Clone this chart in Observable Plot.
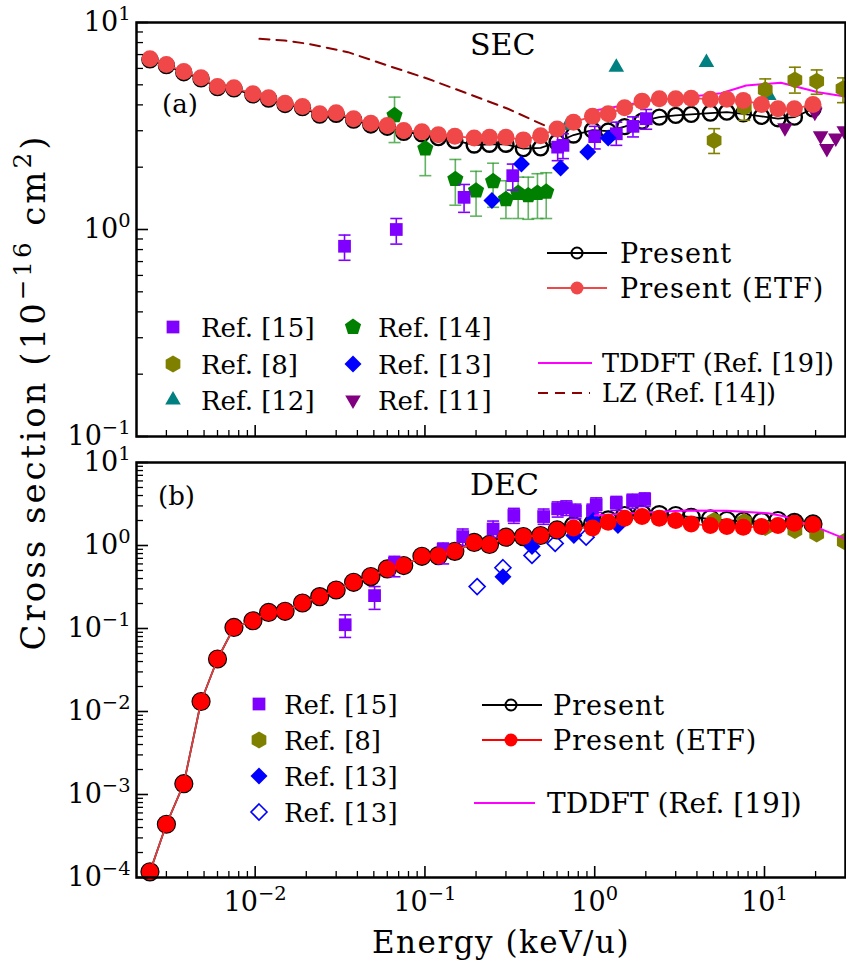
<!DOCTYPE html>
<html><head><meta charset="utf-8">
<script src="https://cdn.jsdelivr.net/npm/d3@7"></script>
<script src="https://cdn.jsdelivr.net/npm/@observablehq/plot@0.6"></script>
<style>
body{margin:0;background:#fff;}
#wrap{position:relative;width:846px;height:963px;font-family:"DejaVu Serif",serif;overflow:hidden;}
#wrap > svg{position:absolute;left:0;}
</style></head><body><div id="wrap"></div>
<script>
// ---------- data ----------
const energy = [0.0024,0.003,0.0038,0.0048,0.006,0.0075,0.0097,0.012,0.015,0.019,0.024,0.03,0.038,0.048,0.06,0.075,0.096,0.12,0.15,0.195,0.24,0.3,0.38,0.48,0.6,0.75,0.97,1.2,1.5,1.9,2.4,3.0,3.7,4.8,6.0,7.5,9.6,12,15,19.3];
const secETF = [6.68,6.27,5.80,5.41,4.91,4.84,4.53,4.33,4.07,3.93,3.62,3.66,3.43,3.26,3.18,3.01,2.97,2.87,2.82,2.77,2.79,2.79,2.71,2.84,3.06,3.30,3.52,3.62,3.87,4.17,4.28,4.28,4.31,4.26,4.26,4.20,4.02,3.83,3.83,4.02];
const secPresent = [6.60,6.20,5.72,5.35,4.85,4.78,4.47,4.27,4.02,3.88,3.57,3.60,3.38,3.20,3.12,2.95,2.90,2.78,2.69,2.56,2.58,2.58,2.46,2.48,2.64,2.86,3.02,2.99,3.14,3.34,3.49,3.56,3.60,3.65,3.69,3.62,3.52,3.43,3.49,3.83];
const decETF = [1.17e-4,4.38e-4,1.35e-3,0.0132,0.0429,0.103,0.124,0.156,0.161,0.203,0.242,0.291,0.360,0.422,0.522,0.573,0.741,0.755,0.85,1.09,1.03,1.26,1.28,1.32,1.54,1.63,1.63,1.90,2.13,2.23,2.13,2.00,1.82,1.74,1.69,1.66,1.69,1.74,1.85,1.79];
const decPresent = [1.17e-4,4.38e-4,1.35e-3,0.0132,0.0429,0.103,0.124,0.156,0.161,0.203,0.242,0.291,0.360,0.422,0.522,0.573,0.741,0.755,0.85,1.09,1.03,1.26,1.28,1.32,1.54,1.74,1.82,2.04,2.30,2.40,2.36,2.30,2.19,2.09,2.00,1.96,1.94,2.00,1.90,1.82];

const lzE = [0.0106,0.0149,0.0205,0.0352,0.0605,0.104,0.179,0.308,0.507];
const lzSec = [8.34,8.18,7.89,7.19,6.19,5.35,4.53,3.83,3.18];
const tdSecE = [1.0,2.15,3.0,5.55,7.8,12.5,20.7,30];
const tdSec = [3.76,4.2,4.3,4.55,4.96,5.12,4.6,4.39];
const tdDecE = [1.0,2.15,3.4,6.0,10.5,13,20.7,30];
const tdDec = [2.3,2.51,2.64,2.62,2.44,2.25,1.63,1.2];

// SEC experiments
const s15E = [0.0336,0.0678,0.170,0.329,0.605,0.65,1.0,1.34,1.68,2.01];
const s15 = [0.83,1.0,1.43,1.82,2.50,2.55,2.81,2.9,3.15,3.43];
const s15lo = [0.71,0.85,1.21,1.55,2.15,2.2,2.45,2.55,2.8,3.05];
const s15hi = [0.94,1.13,1.65,2.07,2.85,2.9,3.15,3.3,3.5,3.8];
const s14E = [0.0662,0.1005,0.151,0.200,0.252,0.30,0.354,0.406,0.46,0.518];
const s14 = [3.56,2.46,1.75,1.54,1.71,1.40,1.50,1.46,1.50,1.52];
const s14lo = [2.63,1.82,1.31,1.16,1.28,1.13,1.13,1.12,1.13,1.13];
const s14hi = [4.36,3.0,2.18,1.91,2.09,1.72,1.79,1.79,1.86,1.88];
const s13E = [0.248,0.37,0.63,0.91,1.2];
const s13 = [1.38,2.07,1.98,2.37,2.77];
const s12E = [0.69,1.34,4.55,10.6];
const s12 = [3.18,6.08,6.4,4.44];
const s8E = [5.05,7.6,10.1,15.1,20.3,29];
const s8 = [2.69,3.9,4.73,5.28,5.2,4.79];
const s8lo = [2.33,3.37,3.97,4.56,4.5,4.1];
const s8hi = [3.07,4.44,5.34,6.08,5.9,5.4];
const s11E = [13.2,19.8,21.4,23.3,26.3,29.5];
const s11 = [3.10,3.69,2.84,2.46,2.77,3.0];

// DEC experiments
const d15E = [0.0339,0.0505,0.0661,0.128,0.167,0.252,0.334,0.50,0.605,0.68,0.77,0.97,1.02,1.34,1.67,1.97];
const d15 = [0.111,0.249,0.61,0.9,1.28,1.58,2.30,2.23,2.76,2.85,2.59,2.6,3.1,3.25,3.45,3.6];
const d15lo = [0.078,0.17,0.42,0.6,1.0,1.25,1.85,1.8,2.2,2.3,2.1,2.1,2.5,2.65,2.8,2.95];
const d15hi = [0.146,0.32,0.74,1.07,1.58,1.97,2.8,2.75,3.35,3.45,3.15,3.15,3.75,3.9,4.15,4.3];
const d8E = [5.05,7.6,10.1,15.1,20.3,29.5];
const d8 = [2.0,1.95,1.65,1.52,1.38,1.12];
const d8lo = [1.82,1.77,1.5,1.38,1.25,1.0];
const d8hi = [2.2,2.15,1.82,1.68,1.52,1.25];
const d13E = [0.288,0.427,0.754,0.98,1.37];
const d13 = [0.42,0.97,1.32,2.0,1.74];
const d13oE = [0.203,0.288,0.427,0.585,0.89];
const d13o = [0.32,0.54,0.76,1.06,1.26];

// ticks
const xMajor = [0.01,0.1,1,10];
const xMinor = [0.003,0.004,0.005,0.006,0.007,0.008,0.009,0.02,0.03,0.04,0.05,0.06,0.07,0.08,0.09,0.2,0.3,0.4,0.5,0.6,0.7,0.8,0.9,2,3,4,5,6,7,8,9,20];
const yMajorTop = [0.1,1,10];
const yMajorBot = [1e-4,1e-3,1e-2,1e-1,1,10];
const minorOf = (decs) => decs.flatMap(d => [2,3,4,5,6,7,8,9].map(k => +(k*d).toPrecision(3)));
const yMinorTop = minorOf([0.1,1]);
const yMinorBot = minorOf([1e-4,1e-3,1e-2,1e-1,1]);

// colors
const C = {purple:"#8000ff", olive:"#808000", teal:"#008080", green:"#008000", blue:"#0000ff", plum:"#800080", mag:"#ff00ff", lz:"#8b0000", etfTop:"#f04848", etfBot:"#ff0000"};

// ---------- helpers ----------
const rows = (xs, ys, lo, hi) => xs.map((x,i) => ({x, y: ys[i], lo: lo ? lo[i] : null, hi: hi ? hi[i] : null}));
const mk = f => ({draw(ctx, size){ const r = Math.sqrt(size/Math.PI); f(ctx, r); }});
const poly = (ctx, r, n, a0) => { for (let i=0;i<n;i++){ const a=a0+i*2*Math.PI/n; const px=r*Math.cos(a), py=r*Math.sin(a); i?ctx.lineTo(px,py):ctx.moveTo(px,py);} ctx.closePath(); };
const symSquare = mk((c,r)=>{const s=r*0.85; c.moveTo(-s,-s); c.lineTo(s,-s); c.lineTo(s,s); c.lineTo(-s,s); c.closePath();});
const symDiamond = mk((c,r)=>{c.moveTo(0,-r); c.lineTo(r,0); c.lineTo(0,r); c.lineTo(-r,0); c.closePath();});
const symTriUp = mk((c,r)=>poly(c, r, 3, -Math.PI/2));
const symTriDown = mk((c,r)=>poly(c, r, 3, Math.PI/2));
const symPent = mk((c,r)=>poly(c, r, 5, -Math.PI/2));
const symHex = mk((c,r)=>poly(c, r, 6, -Math.PI/2));
const symCap = mk((c,r)=>{c.moveTo(-r,0); c.lineTo(r,0);});

function expMarks(data, sym, color, opts = {}) {
  const m = [];
  if (data[0].lo != null) {
    const ec = opts.errColor || color;
    m.push(Plot.ruleX(data, {x:"x", y1:"lo", y2:"hi", stroke: ec, strokeWidth: 1.6, strokeOpacity: opts.errOpacity || 1, clip: true}));
    m.push(Plot.dot(data, {x:"x", y:"lo", symbol: symCap, r: 6, stroke: ec, strokeWidth: 1.6, fill: "none", strokeOpacity: opts.errOpacity || 1, clip: true}));
    m.push(Plot.dot(data, {x:"x", y:"hi", symbol: symCap, r: 6, stroke: ec, strokeWidth: 1.6, fill: "none", strokeOpacity: opts.errOpacity || 1, clip: true}));
  }
  m.push(Plot.dot(data, {x:"x", y:"y", symbol: sym, r: opts.r || 8, fill: opts.open ? "none" : color, stroke: opts.open ? color : "none", strokeWidth: 1.6, clip: true}));
  return m;
}

function axisMarks(yMajor, yMinor, withXLabels) {
  const m = [
    Plot.axisY(yMajor, {anchor:"left", tickSize:-12, fill:"none", strokeWidth:1.6, label:null}),
    Plot.axisY(yMinor, {anchor:"left", tickSize:-7, fill:"none", strokeWidth:1.3, label:null}),
    Plot.axisY(yMajor, {anchor:"left", tickSize:0, tickPadding:6, fontSize:27, tickFormat: v => "10^" + Math.round(Math.log10(v)), label:null}),
    Plot.axisX(xMajor, {anchor:"bottom", tickSize:-11, fill:"none", strokeWidth:1.6, label:null}),
    Plot.axisX(xMinor, {anchor:"bottom", tickSize:-6, fill:"none", strokeWidth:1.3, label:null})
  ];
  if (withXLabels) m.push(Plot.axisX(xMajor, {anchor:"bottom", tickSize:0, tickPadding:14, fontSize:27, tickFormat: v => "10^" + Math.round(Math.log10(v)), label:null}));
  m.push(Plot.frame({stroke:"black", strokeWidth:2.5}));
  return m;
}

const baseStyle = {fontFamily:"DejaVu Serif, serif", fontSize:"27px", color:"black", background:"transparent", overflow:"visible"};

// ---------- top panel (SEC) ----------
const secBlack = rows(energy, secPresent);
const secRed = rows(energy, secETF);
const topPlot = Plot.plot({
  width: 846, height: 440, marginTop: 22, marginBottom: 4, marginLeft: 136, marginRight: 1,
  x: {type:"log", domain:[0.002, 30]},
  y: {type:"log", domain:[0.1, 10]},
  style: baseStyle,
  marks: [
    Plot.line(rows(lzE, lzSec), {x:"x", y:"y", stroke: C.lz, strokeWidth: 2, strokeDasharray: "10,7"}),
    Plot.line(rows(tdSecE, tdSec), {x:"x", y:"y", stroke: C.mag, strokeWidth: 2, clip: true}),
    Plot.line(secBlack, {x:"x", y:"y", stroke:"black", strokeWidth: 1.8}),
    Plot.dot(secBlack, {x:"x", y:"y", r: 7.5, stroke:"black", strokeWidth: 2.4, fill:"none"}),
    ...expMarks(rows(s14E, s14, s14lo, s14hi), symPent, C.green, {errColor:"#2e9a2e", errOpacity:0.75, r: 8.5}),
    ...expMarks(rows(s15E, s15, s15lo, s15hi), symSquare, C.purple, {r: 7.5}),
    ...expMarks(rows(s13E, s13), symDiamond, C.blue, {r: 8.5}),
    ...expMarks(rows(s12E, s12), symTriUp, C.teal, {r: 9}),
    ...expMarks(rows(s8E, s8, s8lo, s8hi), symHex, C.olive, {r: 8.5}),
    ...expMarks(rows(s11E, s11), symTriDown, C.plum, {r: 9}),
    Plot.line(secRed, {x:"x", y:"y", stroke: C.etfTop, strokeWidth: 1.8}),
    Plot.dot(secRed, {x:"x", y:"y", r: 8.5, fill: C.etfTop}),
    ...axisMarks(yMajorTop, yMinorTop, false)
  ]
});

// ---------- bottom panel (DEC) ----------
const decBlack = rows(energy, decPresent);
const decRed = rows(energy, decETF);
const botPlot = Plot.plot({
  width: 846, height: 523, marginTop: 22, marginBottom: 86, marginLeft: 136, marginRight: 1,
  x: {type:"log", domain:[0.002, 30]},
  y: {type:"log", domain:[1e-4, 10]},
  style: baseStyle,
  marks: [
    Plot.line(decBlack, {x:"x", y:"y", stroke:"black", strokeWidth: 1.8}),
    Plot.dot(decBlack, {x:"x", y:"y", r: 8.5, stroke:"black", strokeWidth: 2.2, fill:"none"}),
    ...expMarks(rows(d15E, d15, d15lo, d15hi), symSquare, C.purple, {r: 7.5}),
    ...expMarks(rows(d8E, d8, d8lo, d8hi), symHex, C.olive, {r: 8.5}),
    ...expMarks(rows(d13E, d13), symDiamond, C.blue, {r: 8.5}),
    ...expMarks(rows(d13oE, d13o), symDiamond, C.blue, {r: 8, open: true}),
    Plot.line(rows(tdDecE, tdDec), {x:"x", y:"y", stroke: C.mag, strokeWidth: 2, clip: true}),
    Plot.line(decRed, {x:"x", y:"y", stroke: "#e04040", strokeWidth: 1.8}),
    Plot.dot(decRed, {x:"x", y:"y", r: 8.5, fill: C.etfBot}),
    ...axisMarks(yMajorBot, yMinorBot, true)
  ]
});

// superscript tick labels
function supify(svg) {
  d3.select(svg).selectAll("text").each(function(){
    const t = this.textContent;
    const m = /^10\^(.+)$/.exec(t);
    if (!m) return;
    const sel = d3.select(this); sel.text(null);
    sel.append("tspan").text("10");
    sel.append("tspan").attr("dy","-0.55em").attr("font-size","0.72em").text(m[1].replace("-","\u2212"));
  });
}
supify(topPlot); supify(botPlot);

const wrap = document.getElementById("wrap");
topPlot.style.top = "0px";
botPlot.style.top = "440px";
wrap.appendChild(topPlot);
wrap.appendChild(botPlot);

// ---------- overlay: annotations, legends, axis titles ----------
const ov = d3.create("svg").attr("width", 846).attr("height", 963)
  .style("position","absolute").style("top","0px").style("left","0px")
  .attr("font-family","DejaVu Serif, serif").attr("fill","black");

function rich(x, y, parts, size, opts = {}) {
  const t = ov.append("text").attr("x", x).attr("y", y).attr("font-size", size)
    .attr("text-anchor", opts.anchor || "start");
  if (opts.rotate) t.attr("transform", `rotate(${opts.rotate},${x},${y})`);
  if (opts.ls) t.attr("letter-spacing", opts.ls);
  let shift = 0;
  for (const p of parts) {
    const s = t.append("tspan").text(p.t);
    if (p.sup) { const d = -0.42*size; s.attr("dy", d - shift).attr("font-size", 0.72*size); shift = d; }
    else if (shift) { s.attr("dy", -shift); shift = 0; }
  }
  return t;
}

rich(162, 113, [{t:"(a)"}], 26);
rich(470, 55, [{t:"SEC"}], 30);
rich(158, 505, [{t:"(b)"}], 26);
rich(470, 495, [{t:"DEC"}], 30);

rich(501, 953, [{t:"Energy (keV/u)"}], 31, {anchor:"middle", ls:1.5});
rich(45, 392, [{t:"Cross section (10"},{t:"\u221216", sup:true},{t:" cm"},{t:"2", sup:true},{t:")"}], 34, {anchor:"middle", rotate:-90, ls:3});

function symPath(sym, r) { return d3.symbol(sym, Math.PI*r*r)(); }
function legSym(x, y, sym, color, r, open) {
  ov.append("path").attr("d", symPath(sym, r)).attr("transform", `translate(${x},${y})`)
    .attr("fill", open ? "none" : color).attr("stroke", open ? color : "none").attr("stroke-width", 1.6);
}
function legLine(x1, x2, y, color, dash, w) {
  ov.append("line").attr("x1", x1).attr("x2", x2).attr("y1", y).attr("y2", y)
    .attr("stroke", color).attr("stroke-width", w || 2).attr("stroke-dasharray", dash || null);
}

// top-left legend
const tl1 = [["Ref. [15]", symSquare, C.purple, 7.5], ["Ref. [8]", symHex, C.olive, 8.5], ["Ref. [12]", symTriUp, C.teal, 9]];
const tl2 = [["Ref. [14]", symPent, C.green, 8.5], ["Ref. [13]", symDiamond, C.blue, 8.5], ["Ref. [11]", symTriDown, C.plum, 9]];
const tRows = [327, 364, 400];
tl1.forEach((d,i) => { legSym(173, tRows[i], d[1], d[2], d[3]); rich(201, tRows[i]+10, [{t:d[0]}], 26); });
tl2.forEach((d,i) => { legSym(353, tRows[i], d[1], d[2], d[3]); rich(378, tRows[i]+10, [{t:d[0]}], 26); });

// top-right legend
legLine(547, 607, 253, "black", null, 2);
ov.append("circle").attr("cx", 577).attr("cy", 253).attr("r", 5.5).attr("fill", "none").attr("stroke","black").attr("stroke-width", 2);
rich(620, 263, [{t:"Present"}], 27, {ls:1});
legLine(547, 607, 288, C.etfTop, null, 2);
ov.append("circle").attr("cx", 577).attr("cy", 288).attr("r", 6.5).attr("fill", C.etfTop);
rich(620, 298, [{t:"Present (ETF)"}], 27, {ls:1});
legLine(538, 592, 363, C.mag, null, 2);
rich(602, 372, [{t:"TDDFT (Ref. [19])"}], 25.5);
legLine(538, 590, 393, C.lz, "10,7", 2);
rich(602, 402, [{t:"LZ (Ref. [14])"}], 25.5);

// bottom-left legend
const bl = [["Ref. [15]", symSquare, C.purple, 7.5, false], ["Ref. [8]", symHex, C.olive, 8.5, false], ["Ref. [13]", symDiamond, C.blue, 8.5, false], ["Ref. [13]", symDiamond, C.blue, 8, true]];
const bRows = [704, 740, 776, 812];
bl.forEach((d,i) => { legSym(259, bRows[i], d[1], d[2], d[3], d[4]); rich(284, bRows[i]+10, [{t:d[0]}], 26); });

// bottom-right legend
legLine(482, 542, 705, "black", null, 2);
ov.append("circle").attr("cx", 511).attr("cy", 705).attr("r", 5.5).attr("fill", "none").attr("stroke","black").attr("stroke-width", 2);
rich(553, 715, [{t:"Present"}], 27, {ls:1});
legLine(482, 542, 740, C.etfBot, null, 2);
ov.append("circle").attr("cx", 511).attr("cy", 740).attr("r", 6.5).attr("fill", C.etfBot);
rich(553, 750, [{t:"Present (ETF)"}], 27, {ls:1});
legLine(474, 535, 803, C.mag, null, 2);
rich(547, 813, [{t:"TDDFT (Ref. [19])"}], 28);

wrap.appendChild(ov.node());
</script></body></html>
